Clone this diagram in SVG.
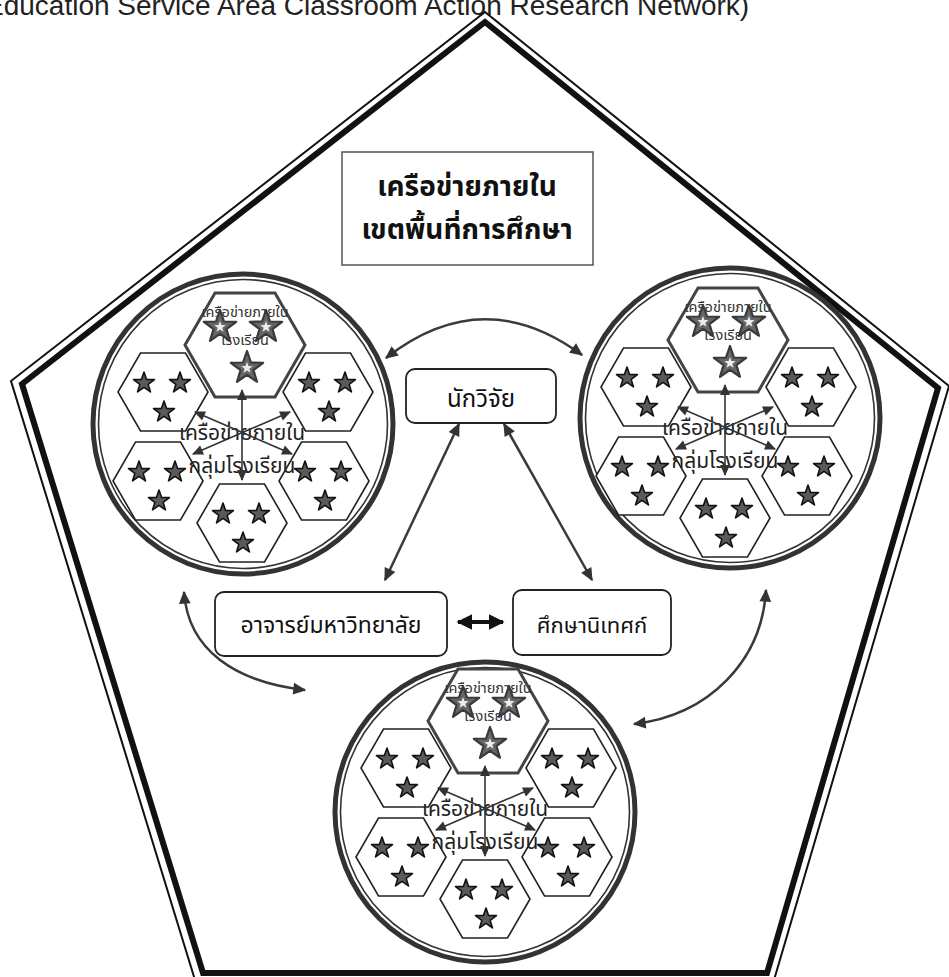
<svg xmlns="http://www.w3.org/2000/svg" xmlns:xlink="http://www.w3.org/1999/xlink" width="949" height="977" viewBox="0 0 949 977">
<style>
.th{font-family:"Noto Sans Thai","Noto Sans","DejaVu Sans",sans-serif;text-anchor:middle}
.hex{fill:#fff;stroke:#222;stroke-width:1.6}
.hexTop{fill:#fff;stroke:#444;stroke-width:3}
.star{fill:#5a5a5a;stroke:#111;stroke-width:1.6;stroke-linejoin:round}
.starL{fill:#666;stroke:#3a3a3a;stroke-width:2.2;stroke-linejoin:round}
.starW{fill:#eee}
.ring{fill:#fff;stroke:#333;stroke-width:5}
.ring2{fill:none;stroke:#333;stroke-width:1.6}
.tHex{font-size:14.5px;fill:#333}
.tMid{font-size:21px;fill:#222}
.inA{stroke:#333;stroke-width:1.6;fill:none}
.conn{fill:none;stroke:#3a3a3a;stroke-width:2.5}
.box{fill:#fff;stroke:#222;stroke-width:1.8}
</style>
<defs>
<polygon id="hexS" points="45,0 22.5,39 -22.5,39 -45,0 -22.5,-39 22.5,-39"/>
<polygon id="hexL" points="60,0 30,52 -30,52 -60,0 -30,-52 30,-52"/>
<path id="starS" d="M0,-11 L2.59,-3.56 L10.46,-3.4 L4.18,1.36 L6.47,8.9 L0,4.4 L-6.47,8.9 L-4.18,1.36 L-10.46,-3.4 L-2.59,-3.56 Z"/>
<path id="starB" d="M0,-17 L4,-5.51 L16.17,-5.25 L6.46,2.11 L10,13.75 L0,6.8 L-10,13.75 L-6.46,2.11 L-16.17,-5.25 L-4,-5.51 Z"/>
<path id="starW" d="M0,-6 L1.41,-1.94 L5.71,-1.85 L2.28,0.74 L3.53,4.85 L0,2.4 L-3.53,4.85 L-2.28,0.74 L-5.71,-1.85 L-1.41,-1.94 Z"/>
<marker id="a1" viewBox="0 0 10 10" refX="9" refY="5" markerWidth="15" markerHeight="13" markerUnits="userSpaceOnUse" orient="auto-start-reverse"><path d="M0,0.5 L10,5 L0,9.5 Z" fill="#333"/></marker>
<marker id="a2" viewBox="0 0 10 10" refX="9" refY="5" markerWidth="12" markerHeight="11" markerUnits="userSpaceOnUse" orient="auto-start-reverse"><path d="M0,0.5 L10,5 L0,9.5 Z" fill="#333"/></marker>
<marker id="a3" viewBox="0 0 10 10" refX="9" refY="5" markerWidth="16" markerHeight="16" markerUnits="userSpaceOnUse" orient="auto-start-reverse"><path d="M0,0 L10,5 L0,10 Z" fill="#111"/></marker>
</defs>
<rect width="949" height="977" fill="#fff"/>
<text id="header" x="-15" y="15" font-family="Liberation Sans, Arial, sans-serif" font-size="28" fill="#222">Education Service Area Classroom Action Research Network)</text>
<g id="boundary">
<polygon points="485,12 949,386 774,980 195,980 11,381" fill="none" stroke="#111" stroke-width="2"/>
<polygon points="485,22 938,388 767,973 203,973 22,384" fill="none" stroke="#111" stroke-width="6" stroke-linejoin="miter"/>
</g>
<g id="title-box">
<rect x="342" y="152" width="251" height="113" fill="#fff" stroke="#555" stroke-width="1.5"/>
<text class="th" x="467" y="196" font-size="28" font-weight="bold" fill="#111">เครือข่ายภายใน</text>
<text class="th" x="467" y="239" font-size="28" font-weight="bold" fill="#111">เขตพื้นที่การศึกษา</text>
</g>
<g id="cluster-left" transform="translate(242,432)">
<circle class="ring" cx="1" cy="-8" r="150"/><circle class="ring2" cx="1" cy="-8" r="144.5"/>
<use href="#hexS" class="hex" x="-79" y="-40"/><use href="#hexS" class="hex" x="86" y="-40"/><use href="#hexS" class="hex" x="-84" y="49"/><use href="#hexS" class="hex" x="82" y="49"/><use href="#hexS" class="hex" x="0" y="91"/>
<use href="#hexL" class="hexTop" x="3" y="-87"/>
<text class="th tHex" x="3" y="-115">เครือข่ายภายใน</text><text class="th tHex" x="3" y="-87">โรงเรียน</text>
<text class="th tMid" x="0" y="8">เครือข่ายภายใน</text><text class="th tMid" x="0" y="41">กลุ่มโรงเรียน</text>
<g class="star">
<use href="#starS" x="-98" y="-49"/><use href="#starS" x="-62" y="-49"/><use href="#starS" x="-78" y="-20"/>
<use href="#starS" x="67" y="-49"/><use href="#starS" x="103" y="-49"/><use href="#starS" x="87" y="-20"/>
<use href="#starS" x="-103" y="40"/><use href="#starS" x="-67" y="40"/><use href="#starS" x="-83" y="69"/>
<use href="#starS" x="63" y="40"/><use href="#starS" x="99" y="40"/><use href="#starS" x="83" y="69"/>
<use href="#starS" x="-19" y="82"/><use href="#starS" x="17" y="82"/><use href="#starS" x="1" y="111"/>
</g>
<g class="starL"><use href="#starB" x="-22" y="-105"/><use href="#starB" x="24" y="-105"/><use href="#starB" x="5" y="-64"/></g>
<g class="starW"><use href="#starW" x="-22" y="-105"/><use href="#starW" x="24" y="-105"/><use href="#starW" x="5" y="-64"/></g>
<g class="inA">
<line x1="0" y1="-42" x2="0" y2="48" marker-start="url(#a2)" marker-end="url(#a2)"/>
<line x1="-47" y1="-20" x2="50" y2="22" marker-start="url(#a2)" marker-end="url(#a2)"/>
<line x1="48" y1="-20" x2="-49" y2="22" marker-start="url(#a2)" marker-end="url(#a2)"/>
</g>
</g>
<g id="cluster-right" transform="translate(725,427)">
<circle class="ring" cx="5" cy="-9" r="150"/><circle class="ring2" cx="5" cy="-9" r="144.5"/>
<use href="#hexS" class="hex" x="-79" y="-40"/><use href="#hexS" class="hex" x="86" y="-40"/><use href="#hexS" class="hex" x="-84" y="49"/><use href="#hexS" class="hex" x="82" y="49"/><use href="#hexS" class="hex" x="0" y="91"/>
<use href="#hexL" class="hexTop" x="3" y="-87"/>
<text class="th tHex" x="3" y="-115">เครือข่ายภายใน</text><text class="th tHex" x="3" y="-87">โรงเรียน</text>
<text class="th tMid" x="0" y="8">เครือข่ายภายใน</text><text class="th tMid" x="0" y="41">กลุ่มโรงเรียน</text>
<g class="star">
<use href="#starS" x="-98" y="-49"/><use href="#starS" x="-62" y="-49"/><use href="#starS" x="-78" y="-20"/>
<use href="#starS" x="67" y="-49"/><use href="#starS" x="103" y="-49"/><use href="#starS" x="87" y="-20"/>
<use href="#starS" x="-103" y="40"/><use href="#starS" x="-67" y="40"/><use href="#starS" x="-83" y="69"/>
<use href="#starS" x="63" y="40"/><use href="#starS" x="99" y="40"/><use href="#starS" x="83" y="69"/>
<use href="#starS" x="-19" y="82"/><use href="#starS" x="17" y="82"/><use href="#starS" x="1" y="111"/>
</g>
<g class="starL"><use href="#starB" x="-22" y="-105"/><use href="#starB" x="24" y="-105"/><use href="#starB" x="5" y="-64"/></g>
<g class="starW"><use href="#starW" x="-22" y="-105"/><use href="#starW" x="24" y="-105"/><use href="#starW" x="5" y="-64"/></g>
<g class="inA">
<line x1="0" y1="-42" x2="0" y2="48" marker-start="url(#a2)" marker-end="url(#a2)"/>
<line x1="-47" y1="-20" x2="50" y2="22" marker-start="url(#a2)" marker-end="url(#a2)"/>
<line x1="48" y1="-20" x2="-49" y2="22" marker-start="url(#a2)" marker-end="url(#a2)"/>
</g>
</g>
<g id="cluster-bottom" transform="translate(485,808)">
<circle class="ring" cx="0" cy="4" r="150"/><circle class="ring2" cx="0" cy="4" r="144.5"/>
<use href="#hexS" class="hex" x="-79" y="-40"/><use href="#hexS" class="hex" x="86" y="-40"/><use href="#hexS" class="hex" x="-84" y="49"/><use href="#hexS" class="hex" x="82" y="49"/><use href="#hexS" class="hex" x="0" y="91"/>
<use href="#hexL" class="hexTop" x="3" y="-87"/>
<text class="th tHex" x="3" y="-115">เครือข่ายภายใน</text><text class="th tHex" x="3" y="-87">โรงเรียน</text>
<text class="th tMid" x="0" y="8">เครือข่ายภายใน</text><text class="th tMid" x="0" y="41">กลุ่มโรงเรียน</text>
<g class="star">
<use href="#starS" x="-98" y="-49"/><use href="#starS" x="-62" y="-49"/><use href="#starS" x="-78" y="-20"/>
<use href="#starS" x="67" y="-49"/><use href="#starS" x="103" y="-49"/><use href="#starS" x="87" y="-20"/>
<use href="#starS" x="-103" y="40"/><use href="#starS" x="-67" y="40"/><use href="#starS" x="-83" y="69"/>
<use href="#starS" x="63" y="40"/><use href="#starS" x="99" y="40"/><use href="#starS" x="83" y="69"/>
<use href="#starS" x="-19" y="82"/><use href="#starS" x="17" y="82"/><use href="#starS" x="1" y="111"/>
</g>
<g class="starL"><use href="#starB" x="-22" y="-105"/><use href="#starB" x="24" y="-105"/><use href="#starB" x="5" y="-64"/></g>
<g class="starW"><use href="#starW" x="-22" y="-105"/><use href="#starW" x="24" y="-105"/><use href="#starW" x="5" y="-64"/></g>
<g class="inA">
<line x1="0" y1="-42" x2="0" y2="48" marker-start="url(#a2)" marker-end="url(#a2)"/>
<line x1="-47" y1="-20" x2="50" y2="22" marker-start="url(#a2)" marker-end="url(#a2)"/>
<line x1="48" y1="-20" x2="-49" y2="22" marker-start="url(#a2)" marker-end="url(#a2)"/>
</g>
</g>
<g id="researcher">
<rect class="box" x="406" y="369" width="150" height="54" rx="9"/>
<text class="th" x="481" y="407" font-size="24" fill="#111">นักวิจัย</text>
</g>
<g id="lecturer">
<rect class="box" x="215" y="592" width="232" height="64" rx="9"/>
<text class="th" x="331" y="633" font-size="23" fill="#111">อาจารย์มหาวิทยาลัย</text>
</g>
<g id="supervisor">
<rect class="box" x="513" y="590" width="158" height="65" rx="9"/>
<text class="th" x="592" y="633" font-size="22" fill="#111">ศึกษานิเทศก์</text>
</g>
<g id="connectors">
<path class="conn" d="M386,358 Q483,282 582,355" marker-start="url(#a1)" marker-end="url(#a1)"/>
<line class="conn" x1="459" y1="424" x2="385" y2="580" marker-start="url(#a1)" marker-end="url(#a1)"/>
<line class="conn" x1="504" y1="424" x2="592" y2="580" marker-start="url(#a1)" marker-end="url(#a1)"/>
<path class="conn" d="M184,592 C188,650 235,682 305,690" marker-start="url(#a1)" marker-end="url(#a1)"/>
<path class="conn" d="M766,590 C762,660 710,715 634,724" marker-start="url(#a1)" marker-end="url(#a1)"/>
<line x1="458" y1="622" x2="503" y2="622" stroke="#111" stroke-width="4" marker-start="url(#a3)" marker-end="url(#a3)"/>
</g>
</svg>
